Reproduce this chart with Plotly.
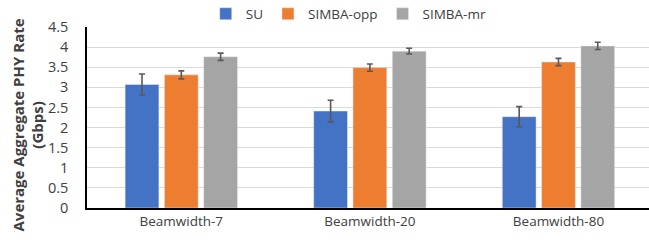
import plotly.graph_objects as go

categories = ["Beamwidth-7", "Beamwidth-20", "Beamwidth-80"]
su = [3.07, 2.41, 2.27]
su_err = [0.26, 0.27, 0.25]
opp = [3.31, 3.49, 3.63]
opp_err = [0.10, 0.09, 0.09]
mr = [3.76, 3.90, 4.03]
mr_err = [0.09, 0.07, 0.09]
yticks = [0, 0.5, 1, 1.5, 2, 2.5, 3, 3.5, 4, 4.5]
ytick_labels = ["0", "0.5", "1", "1.5", "2", "2.5", "3", "3.5", "4", "4.5"]
y_title = "<b>Average Aggregate PHY Rate<br>(Gbps)</b>"

err_style = dict(type="data", thickness=1.6, width=3, color="#595959")

fig = go.Figure()
for name, vals, errs, color in [
    ("SU", su, su_err, "#4472C4"),
    ("SIMBA-opp", opp, opp_err, "#ED7D31"),
    ("SIMBA-mr", mr, mr_err, "#A5A5A5"),
]:
    fig.add_trace(go.Bar(
        x=categories, y=vals, name=name,
        marker=dict(color=color),
        error_y=dict(array=errs, **err_style),
    ))

fig.update_layout(
    width=649, height=247,
    margin=dict(l=87, r=0, t=27, b=39, autoexpand=False),
    paper_bgcolor="white", plot_bgcolor="white",
    barmode="group", bargap=0.375, bargroupgap=0.14,
    font=dict(family="Open Sans, Liberation Sans, sans-serif", color="#404040", size=13),
    legend=dict(orientation="h", x=0.317, xanchor="left", xref="container",
                y=1 - 14 / 247, yanchor="middle", yref="container",
                font=dict(size=13.5, color="#404040"), bgcolor="rgba(0,0,0,0)",
                itemclick=False),
    showlegend=True,
    annotations=[dict(
        text=y_title, textangle=-90, xref="paper", yref="paper",
        x=0, y=0.5, xanchor="center", yanchor="middle", xshift=-60, yshift=-8,
        showarrow=False, font=dict(size=15, color="#404040"), align="center",
    )],
)
fig.update_xaxes(
    range=[-0.5, 2.48], showline=True, linecolor="black", linewidth=1.5,
    ticks="", tickfont=dict(size=13.5, color="#404040"), showgrid=False,
    automargin=False,
)
fig.update_yaxes(
    range=[0, 4.5], tickvals=yticks, ticktext=ytick_labels,
    showgrid=True, gridcolor="#D9D9D9", gridwidth=1.3,
    showline=True, linecolor="black", linewidth=1.5,
    tickfont=dict(size=14.5, color="#404040"), ticklabelstandoff=14,
    zeroline=False, automargin=False,
)
fig.write_html("out.html", config={"displayModeBar": False},
               post_script="document.body.style.margin='0';window.dispatchEvent(new Event('resize'));")
